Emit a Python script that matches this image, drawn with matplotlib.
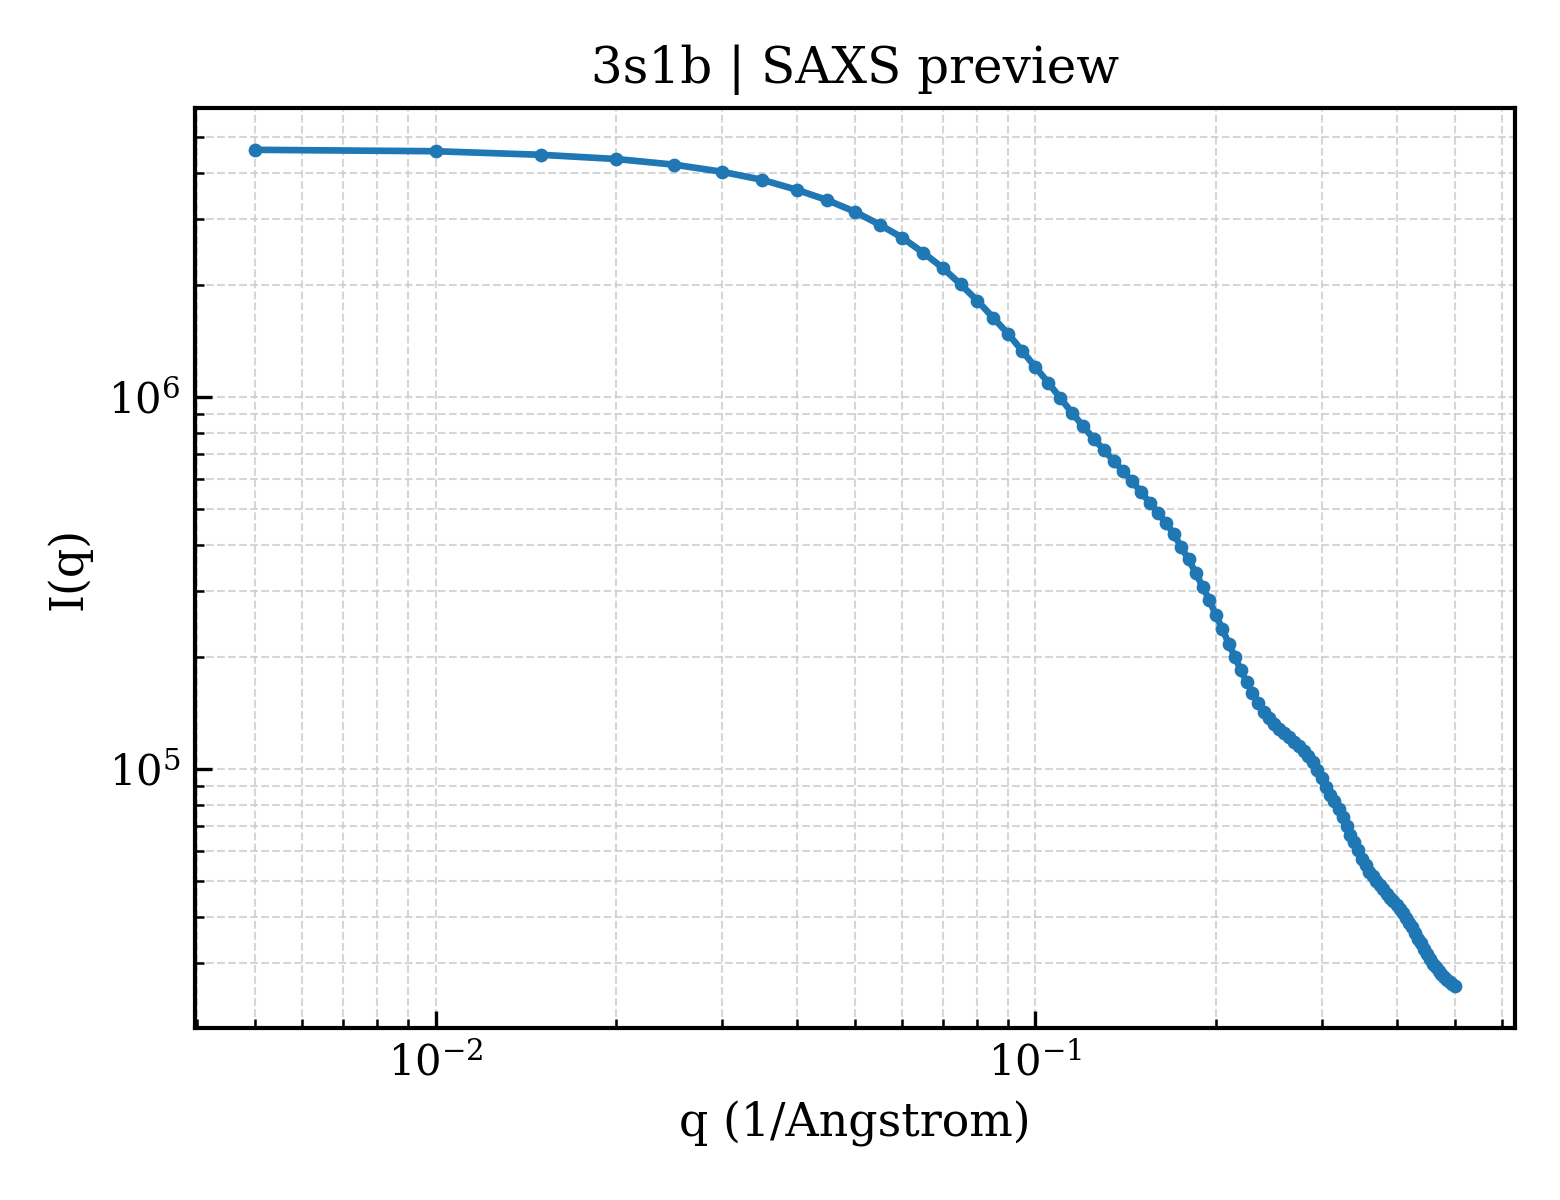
import numpy as np
import matplotlib
matplotlib.use("Agg")
import matplotlib.pyplot as plt

q = [0.005, 0.010, 0.015, 0.020, 0.025, 0.030, 0.035, 0.040, 0.045, 0.050,
     0.055, 0.060, 0.065, 0.070, 0.075, 0.080, 0.085, 0.090, 0.095, 0.100,
     0.105, 0.110, 0.115, 0.120, 0.125, 0.130, 0.135, 0.140, 0.145, 0.150,
     0.155, 0.160, 0.165, 0.170, 0.175, 0.180, 0.185, 0.190, 0.195, 0.200,
     0.205, 0.210, 0.215, 0.220, 0.225, 0.230, 0.235, 0.240, 0.245, 0.250,
     0.255, 0.260, 0.265, 0.270, 0.275, 0.280, 0.285, 0.290, 0.295, 0.300,
     0.305, 0.310, 0.315, 0.320, 0.325, 0.330, 0.335, 0.340, 0.345, 0.350,
     0.355, 0.360, 0.365, 0.370, 0.375, 0.380, 0.385, 0.390, 0.395, 0.400,
     0.405, 0.410, 0.415, 0.420, 0.425, 0.430, 0.435, 0.440, 0.445, 0.450,
     0.455, 0.460, 0.465, 0.470, 0.475, 0.480, 0.485, 0.490, 0.495, 0.500]

intensity = [4.61e6, 4.57e6, 4.47e6, 4.355e6, 4.205e6, 4.025e6, 3.83e6, 3.60e6, 3.375e6, 3.143e6,
             2.90e6, 2.675e6, 2.438e6, 2.222e6, 2.006e6, 1.812e6, 1.631e6, 1.477e6, 1.329e6, 1.200e6,
             1.091e6, 9.92e5, 9.06e5, 8.34e5, 7.71e5, 7.20e5, 6.72e5, 6.30e5, 5.92e5, 5.54e5,
             5.19e5, 4.88e5, 4.58e5, 4.28e5, 3.94e5, 3.65e5, 3.36e5, 3.08e5, 2.834e5, 2.583e5,
             2.368e5, 2.168e5, 1.997e5, 1.837e5, 1.710e5, 1.601e5, 1.500e5, 1.420e5, 1.371e5, 1.321e5,
             1.281e5, 1.246e5, 1.216e5, 1.182e5, 1.150e5, 1.118e5, 1.084e5, 1.041e5, 9.91e4, 9.43e4,
             8.95e4, 8.51e4, 8.18e4, 7.78e4, 7.43e4, 7.03e4, 6.63e4, 6.35e4, 6.06e4, 5.73e4,
             5.50e4, 5.28e4, 5.14e4, 5.00e4, 4.86e4, 4.74e4, 4.61e4, 4.50e4, 4.40e4, 4.31e4,
             4.20e4, 4.09e4, 3.96e4, 3.85e4, 3.74e4, 3.61e4, 3.49e4, 3.39e4, 3.28e4, 3.18e4,
             3.08e4, 2.99e4, 2.92e4, 2.85e4, 2.80e4, 2.75e4, 2.71e4, 2.67e4, 2.63e4, 2.60e4]

plt.rcParams['font.family'] = 'DejaVu Serif'

fig = plt.figure(figsize=(5.2, 4), dpi=300)
ax = fig.add_axes([0.125, 0.1433, 0.846, 0.7667])

ax.loglog(q, intensity, '-o', color='#1f77b4', lw=1.6, ms=2.3)

ax.grid(True, which='both', ls='--', lw=0.5, color='#cccccc', alpha=0.8)
ax.tick_params(which='major', direction='in', length=4, width=0.8, labelsize=10)
ax.tick_params(which='minor', direction='in', length=2.2, width=0.6)
for s in ax.spines.values():
    s.set_linewidth(1.0)

ax.set_xlabel('q (1/Angstrom)', fontsize=11)
ax.set_ylabel('I(q)', fontsize=11)
ax.set_title('3s1b | SAXS preview', fontsize=12)

fig.savefig('out.png', dpi=300)
